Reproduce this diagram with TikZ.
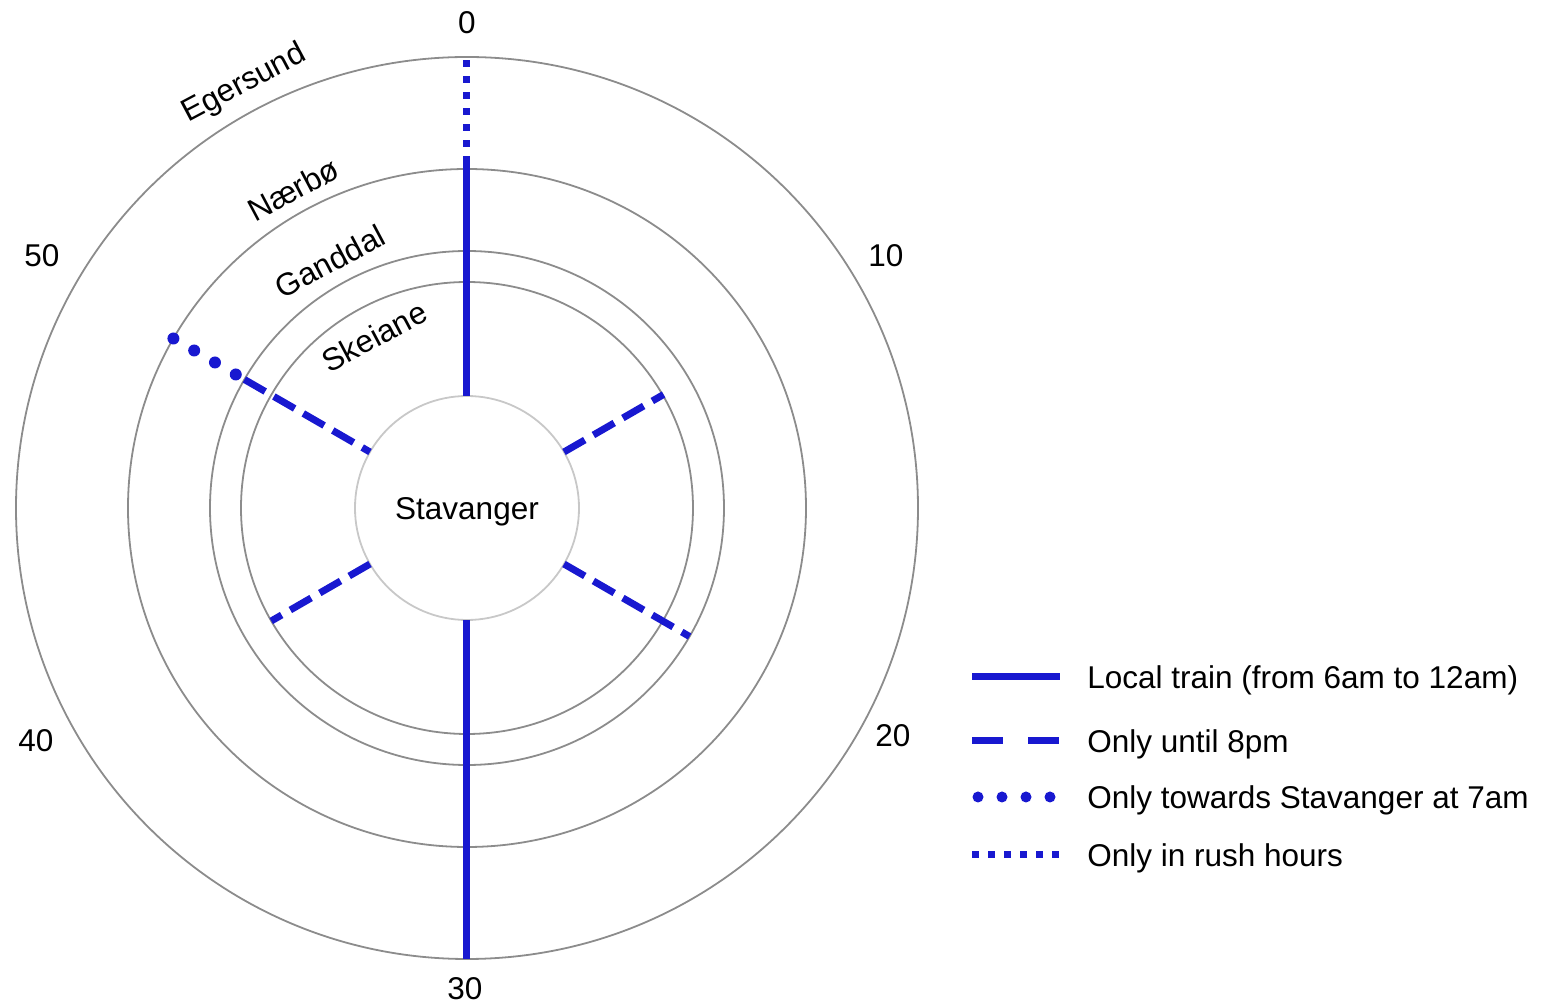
\documentclass[tikz,border=0pt]{standalone}
\usepackage{fontspec}
\setmainfont{Liberation Sans}
\definecolor{route}{RGB}{24,24,208}
\definecolor{ring}{RGB}{140,140,140}
\definecolor{core}{RGB}{200,200,200}
\tikzset{
  lbl/.style={font=\fontsize{15.75}{18}\selectfont, inner sep=0pt, text height=0.716em, text depth=0pt},
  ringline/.style={draw=ring, line width=0.9pt},
  solidroute/.style={draw=route, line width=3.5pt},
  dashroute/.style={draw=route, line width=3.5pt, dash pattern=on 12pt off 5pt},
  rushroute/.style={draw=route, line width=3.5pt, dash pattern=on 3.5pt off 4.5pt},
  dotroute/.style={fill=route, draw=none},
}
\begin{document}
\begin{tikzpicture}[x=0.5pt,y=0.5pt]
\useasboundingbox (-467,-498) rectangle (1077,508);
% rings
\draw[ringline] (0,0) circle[radius=451];
\draw[ringline] (0,0) circle[radius=339];
\draw[ringline] (0,0) circle[radius=257];
\draw[ringline] (0,0) circle[radius=226];
\draw[draw=core, line width=0.9pt] (0,0) circle[radius=112];
\node[lbl] (stav) at (0,-4) {Stavanger};
% routes
\draw[solidroute] (90:112) -- (90:345);
\draw[rushroute] (90:345) -- (90:451);
\draw[solidroute] (270:112) -- (270:451);
\draw[dashroute] (30:112) -- (30:227);
\draw[dashroute] (-30:112) -- (-30:257);
\draw[dashroute] (210:112) -- (210:226);
\draw[dashroute] (150:257) -- (150:112);
\foreach \r in {339,315,291,267} \fill[dotroute] (150:\r) circle[radius=6];
% station labels
\node[lbl, rotate=28] (eg) at (-222,423) {Egersund};
\node[lbl, rotate=28] (na) at (-172,315) {Nærbø};
\node[lbl, rotate=28] (ga) at (-135,243) {Ganddal};
\node[lbl, rotate=28] (sk) at (-91,168) {Skeiane};
% minute labels
\node[lbl] (m0) at (0,482) {0};
\node[lbl] (m10) at (419,249) {10};
\node[lbl] (m20) at (426,-231) {20};
\node[lbl] (m30) at (-2,-484) {30};
\node[lbl] (m40) at (-431,-236) {40};
\node[lbl] (m50) at (-425,249) {50};
% legend
\coordinate (l1a) at (505,-169); \coordinate (l1b) at (593,-169);
\coordinate (l2a) at (505,-233); \coordinate (l2b) at (593,-233);
\coordinate (l4a) at (505,-347); \coordinate (l4b) at (593,-347);
\draw[solidroute] (l1a) -- (l1b);
\draw[draw=route, line width=3.5pt, dash pattern=on 15.5pt off 12.5pt] (l2a) -- (l2b);
\foreach \x in {511,535,559,583} \fill[dotroute] (\x,-289) circle[radius=5.5];
\draw[rushroute] (l4a) -- (l4b);
\node[lbl, anchor=west] (t1) at (620,-173) {Local train (from 6am to 12am)};
\node[lbl, anchor=west] (t2) at (620,-237) {Only until 8pm};
\node[lbl, anchor=west] (t3) at (620,-293) {Only towards Stavanger at 7am};
\node[lbl, anchor=west] (t4) at (620,-351) {Only in rush hours};
\end{tikzpicture}
\end{document}
